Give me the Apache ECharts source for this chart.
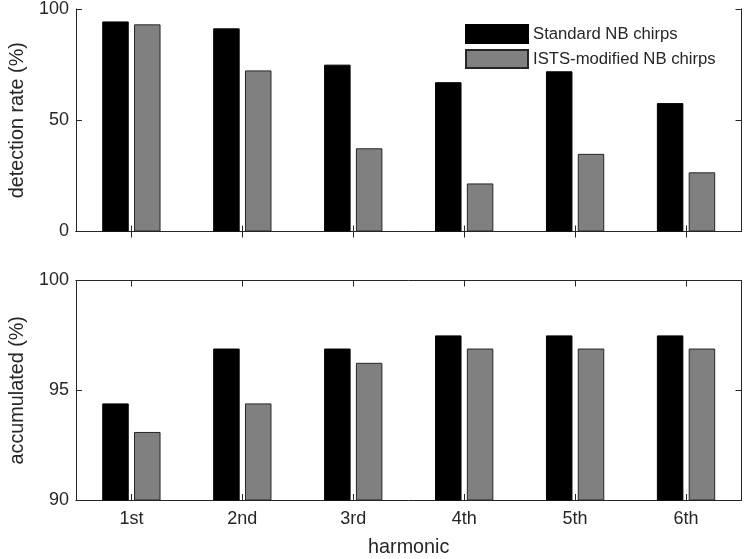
<!DOCTYPE html>
<html>
<head>
<meta charset="utf-8">
<script src="https://cdn.jsdelivr.net/npm/echarts@6/dist/echarts.min.js"></script>
<style>
html,body{margin:0;padding:0;background:#fff;}
#chart{width:745px;height:559px;}
</style>
</head>
<body>
<div id="chart"></div>
<script>
var categories = ['1st', '2nd', '3rd', '4th', '5th', '6th'];
var seriesNames = ['Standard NB chirps', 'ISTS-modified NB chirps'];
var detectionStandard = [94.4, 91.3, 75.0, 67.1, 72.0, 57.7];
var detectionISTS = [93.1, 72.4, 37.4, 21.6, 34.9, 26.6];
var accumulatedStandard = [94.4, 96.9, 96.9, 97.5, 97.5, 97.5];
var accumulatedISTS = [93.1, 94.4, 96.25, 96.9, 96.9, 96.9];
var topTicks = {min: 0, max: 100, interval: 50};
var bottomTicks = {min: 90, max: 100, interval: 5};

var FONT = '"Liberation Sans", Arial, sans-serif';
var AX = '#262626';
var chart = echarts.init(document.getElementById('chart'), null, {renderer: 'canvas'});

function xAx(gridIndex, pos, showLabels, name) {
  return {
    type: 'category', gridIndex: gridIndex, position: pos, data: categories,
    boundaryGap: true,
    axisLine: {show: true, lineStyle: {color: AX, width: 1}},
    axisTick: {show: true, inside: true, alignWithLabel: true, length: 6, lineStyle: {color: AX}},
    axisLabel: {show: showLabels, color: AX, fontFamily: FONT, fontSize: 18, margin: 10},
    name: name || '', nameLocation: 'middle', nameGap: 38,
    nameTextStyle: {color: AX, fontFamily: FONT, fontSize: 19.8},
    splitLine: {show: false}
  };
}
function yAx(gridIndex, pos, ticks, showLabels, name) {
  return {
    type: 'value', gridIndex: gridIndex, position: pos,
    min: ticks.min, max: ticks.max, interval: ticks.interval,
    axisLine: {show: true, onZero: false, lineStyle: {color: AX, width: 1}},
    axisTick: {show: true, inside: true, length: 6, lineStyle: {color: AX}},
    axisLabel: {show: showLabels, color: AX, fontFamily: FONT, fontSize: 18, margin: 7},
    name: name || '', nameLocation: 'middle', nameGap: 40,
    nameTextStyle: {color: AX, fontFamily: FONT, fontSize: 19.8},
    splitLine: {show: false}
  };
}

var blackStyle = {color: '#000000', borderColor: '#000000', borderWidth: 1};
var greyStyle = {color: '#808080', borderColor: '#262626', borderWidth: 1};

chart.setOption({
  animation: false,
  backgroundColor: '#ffffff',
  grid: [
    {left: 65.5, right: 3.5, top: 8, height: 223.5, containLabel: false},
    {left: 65.5, right: 3.5, top: 280.5, height: 221.5, containLabel: false}
  ],
  legend: {
    left: 465, top: 24, padding: 0, orient: 'vertical', itemWidth: 62, itemHeight: 18, itemGap: 5,
    icon: 'rect',
    textStyle: {color: AX, fontFamily: FONT, fontSize: 16.7, lineHeight: 18},
    data: seriesNames
  },
  xAxis: [
    xAx(0, 'bottom', false), xAx(0, 'top', false),
    xAx(1, 'bottom', true, 'harmonic'), xAx(1, 'top', false)
  ],
  yAxis: [
    yAx(0, 'left', topTicks, true, 'detection rate (%)'), yAx(0, 'right', topTicks, false),
    yAx(1, 'left', bottomTicks, true, 'accumulated (%)'), yAx(1, 'right', bottomTicks, false)
  ],
  series: [
    {name: seriesNames[0], type: 'bar', xAxisIndex: 0, yAxisIndex: 0, data: detectionStandard,
     barWidth: 26.5, barGap: '20%', itemStyle: blackStyle},
    {name: seriesNames[1], type: 'bar', xAxisIndex: 0, yAxisIndex: 0, data: detectionISTS,
     barWidth: 26.5, barGap: '20%', itemStyle: greyStyle},
    {name: seriesNames[0], type: 'bar', xAxisIndex: 2, yAxisIndex: 2, data: accumulatedStandard,
     barWidth: 26.5, barGap: '20%', itemStyle: blackStyle},
    {name: seriesNames[1], type: 'bar', xAxisIndex: 2, yAxisIndex: 2, data: accumulatedISTS,
     barWidth: 26.5, barGap: '20%', itemStyle: greyStyle}
  ]
});
</script>
</body>
</html>
